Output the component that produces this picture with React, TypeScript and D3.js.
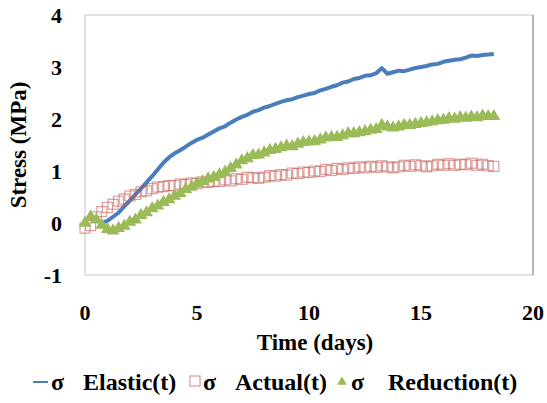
import * as d3 from 'd3';

// sampling times (days)
const days = [
  0, 0.25, 0.5, 0.75, 1, 1.25, 1.5, 1.75, 2, 2.25, 2.5, 2.75, 3, 3.25, 3.5, 3.75,
  4, 4.25, 4.5, 4.75, 5, 5.25, 5.5, 5.75, 6, 6.25, 6.5, 6.75, 7, 7.25, 7.5, 7.75,
  8, 8.25, 8.5, 8.75, 9, 9.25, 9.5, 9.75, 10, 10.25, 10.5, 10.75, 11, 11.25, 11.5, 11.75,
  12, 12.25, 12.5, 12.75, 13, 13.25, 13.5, 13.75, 14, 14.25, 14.5, 14.75, 15, 15.25, 15.5, 15.75,
  16, 16.25, 16.5, 16.75, 17, 17.25, 17.5, 17.75, 18, 18.25,
];

const elastic = [
  null, null, null, 0.0, 0.04, 0.12, 0.2, 0.32, 0.43, 0.55, 0.66, 0.78, 0.9, 1.03, 1.16, 1.26,
  1.34, 1.4, 1.47, 1.54, 1.6, 1.64, 1.7, 1.76, 1.82, 1.86, 1.93, 1.99, 2.04, 2.08, 2.14, 2.17,
  2.22, 2.25, 2.29, 2.33, 2.36, 2.38, 2.42, 2.45, 2.48, 2.5, 2.55, 2.58, 2.62, 2.65, 2.7, 2.72,
  2.77, 2.79, 2.83, 2.84, 2.88, 2.98, 2.87, 2.9, 2.93, 2.92, 2.95, 2.98, 3.0, 3.02, 3.05, 3.06,
  3.1, 3.12, 3.14, 3.15, 3.18, 3.22, 3.21, 3.23, 3.24, 3.25,
];

const actual = [
  -0.1, -0.05, 0.12, 0.22, 0.3, 0.36, 0.42, 0.46, 0.52, 0.55, 0.6, 0.62, 0.66, 0.69, 0.7, 0.72,
  0.72, 0.75, 0.74, 0.77, 0.76, 0.79, 0.78, 0.8, 0.8, 0.83, 0.81, 0.85, 0.84, 0.88, 0.87, 0.86,
  0.88, 0.91, 0.9, 0.93, 0.92, 0.96, 0.95, 0.98, 0.97, 1.0, 0.99, 1.03, 1.01, 1.05, 1.03, 1.06,
  1.05, 1.08, 1.06, 1.09, 1.07, 1.1, 1.08, 1.06, 1.08, 1.11, 1.09, 1.12, 1.1, 1.08, 1.1, 1.13,
  1.11, 1.14, 1.11, 1.13, 1.12, 1.15, 1.11, 1.13, 1.1, 1.09,
];

const reduction = [
  0.0, 0.12, 0.06, -0.04, -0.12, -0.15, -0.1, -0.06, 0.02, 0.06, 0.15, 0.2, 0.28, 0.33, 0.4, 0.45,
  0.52, 0.57, 0.65, 0.69, 0.76, 0.8, 0.85, 0.88, 0.93, 0.98, 1.05, 1.12, 1.2, 1.24, 1.3, 1.31,
  1.35, 1.4, 1.42, 1.45, 1.48, 1.47, 1.52, 1.55, 1.56, 1.57, 1.6, 1.64, 1.65, 1.65, 1.68, 1.72,
  1.72, 1.74, 1.76, 1.79, 1.8, 1.88, 1.85, 1.83, 1.85, 1.88, 1.88, 1.9, 1.92, 1.93, 1.95, 1.97,
  1.98, 2.01, 2.0, 2.03, 2.02, 2.04, 2.03, 2.06, 2.05, 2.05,
];

const xTicks = [0, 5, 10, 15, 20];
const yTicks = [-1, 0, 1, 2, 3, 4];

const BLUE = '#4A7EBB';
const RED = '#C0504D';
const GREEN = '#9BBB59';
const FONT = "'Liberation Serif', 'DejaVu Serif', serif";

export default function App() {
  const width = 547;
  const height = 403;
  const left = 85, right = 533, top = 15, bottom = 275;

  const x = d3.scaleLinear().domain([0, 20]).range([left, right]);
  const y = d3.scaleLinear().domain([-1, 4]).range([bottom, top]);

  const linePath = d3.line<number | null>()
    .defined(d => d != null)
    .x((_, i) => x(days[i]))
    .y(d => y(d as number))(elastic);

  const tri = d3.symbol().type(d3.symbolTriangle).size(72)();
  const sq = 10;
  const txt = { fontFamily: FONT, fontWeight: 'bold' as const };

  return (
    <svg width={width} height={height} style={{ position: 'absolute', left: 0, top: 0, background: '#fff' }}>
      {/* plot frame */}
      <rect x={left} y={top} width={right - left} height={bottom - top} fill="none" stroke="#d9d9d9" strokeWidth={1.5} />
      <line x1={right} x2={right} y1={top} y2={bottom} stroke="#9a9a9a" strokeWidth={1.2} />

      {/* y ticks */}
      {yTicks.map(t => (
        <text key={t} x={62} y={y(t) + 8} textAnchor="end" fontSize={22} style={txt}>{t}</text>
      ))}
      {/* x ticks */}
      {xTicks.map(t => (
        <text key={t} x={x(t)} y={320} textAnchor="middle" fontSize={22} style={txt}>{t}</text>
      ))}

      <text x={315} y={350} textAnchor="middle" fontSize={23} style={txt}>Time (days)</text>
      <text transform={`translate(26,${(top + bottom) / 2}) rotate(-90)`} textAnchor="middle" fontSize={23} style={txt}>Stress (MPa)</text>

      {/* elastic */}
      <path d={linePath ?? ''} fill="none" stroke={BLUE} strokeWidth={4} strokeLinejoin="round" />

      {/* actual */}
      <g fill="none" stroke={RED} strokeOpacity={0.55} strokeWidth={1.2}>
        {actual.map((v, i) => (
          <rect key={i} x={x(days[i]) - sq / 2} y={y(v) - sq / 2} width={sq} height={sq} />
        ))}
      </g>

      {/* reduction */}
      <g fill={GREEN}>
        {reduction.map((v, i) => (
          <path key={i} d={tri ?? ''} transform={`translate(${x(days[i])},${y(v)})`} />
        ))}
      </g>

      {/* legend */}
      <g fontSize={24}>
        <line x1={33} x2={48} y1={382} y2={382} stroke={BLUE} strokeWidth={2} />
        <text x={51} y={390} style={txt}>σ</text>
        <text x={83} y={390} style={txt}>Elastic(t)</text>
        <rect x={190} y={376} width={10} height={10} fill="none" stroke={RED} strokeOpacity={0.7} />
        <text x={203} y={390} style={txt}>σ</text>
        <text x={235} y={390} style={txt}>Actual(t)</text>
        <path d={d3.symbol().type(d3.symbolTriangle).size(40)() ?? ''} transform="translate(342,382)" fill={GREEN} />
        <text x={351} y={390} style={txt}>σ</text>
        <text x={388} y={390} style={txt}>Reduction(t)</text>
      </g>
    </svg>
  );
}
